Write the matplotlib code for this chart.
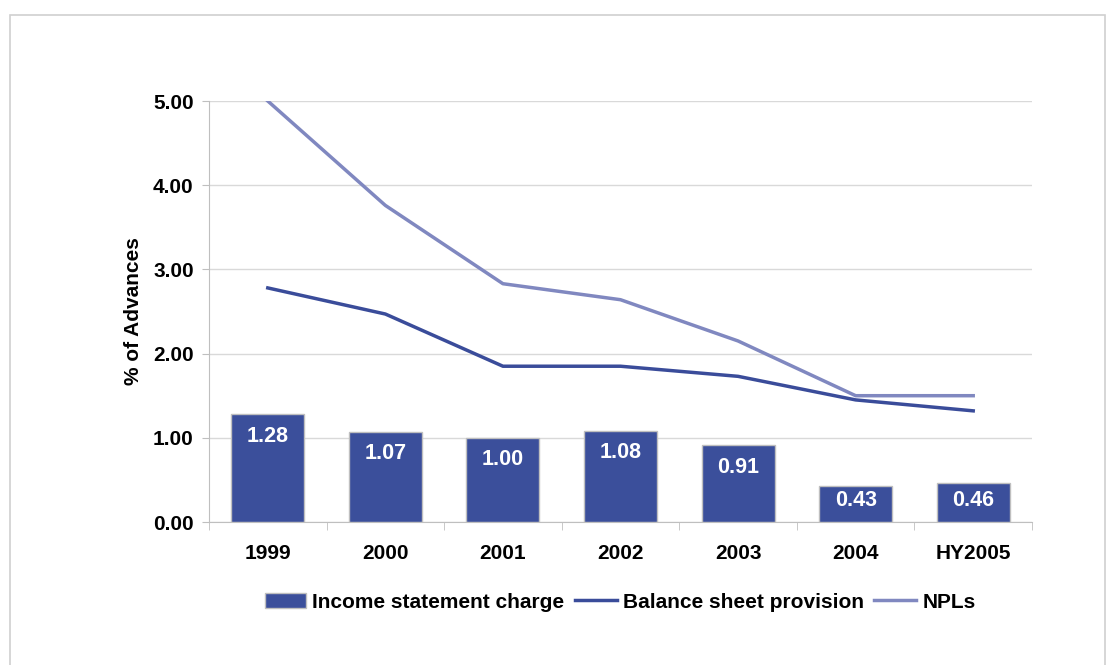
import numpy as np
import matplotlib.pyplot as plt
from matplotlib.patches import Rectangle

# chart data
years = ['1999', '2000', '2001', '2002', '2003', '2004', 'HY2005']
income_charge = [1.28, 1.07, 1.00, 1.08, 0.91, 0.43, 0.46]
balance_prov = [2.78, 2.47, 1.85, 1.85, 1.73, 1.45, 1.32]
npls = [5.00, 3.76, 2.83, 2.64, 2.15, 1.50, 1.50]
yticks = [0, 1, 2, 3, 4, 5]

bar_col = '#3B4F9B'
bal_col = '#3A4C9A'
npl_col = '#8088C0'
grid_col = '#D9D9D9'

plt.rcParams['font.family'] = ['Liberation Sans', 'DejaVu Sans']
plt.rcParams['font.weight'] = 'bold'

fig = plt.figure(figsize=(11.19, 6.65), dpi=100)
# outer frame
fig.patches.append(Rectangle((10 / 1119, -0.01), 1095 / 1119, 1 - 15 / 665 + 0.01,
                             transform=fig.transFigure, fill=False,
                             edgecolor='#D0D0D0', linewidth=1.2))

ax = fig.add_axes([209 / 1119, 1 - 522 / 665, 823 / 1119, 421 / 665])
x = np.arange(len(years))

bars = ax.bar(x, income_charge, width=0.62, color=bar_col, edgecolor='#BFBFBF',
              linewidth=1, zorder=2, label='Income statement charge')
for xi, v in zip(x, income_charge):
    # inside-end labels, kept off the axis for short bars
    ax.text(xi, max(v - 0.26, 0.25), '%.2f' % v, ha='center', va='center',
            color='white', fontsize=15.5, fontweight='bold', zorder=3)

l1, = ax.plot(x, balance_prov, color=bal_col, linewidth=2.5, zorder=4,
              label='Balance sheet provision')
l2, = ax.plot(x, npls, color=npl_col, linewidth=2.5, zorder=4, label='NPLs')

ax.set_xlim(-0.5, len(years) - 0.5)
ax.set_ylim(0, 5)
ax.set_yticks(yticks)
ax.set_yticklabels(['%.2f' % t for t in yticks], fontsize=15, fontweight='bold')
ax.set_xticks(x)
ax.set_xticklabels(years, fontsize=15, fontweight='bold')
ax.set_xticks(np.arange(-0.5, len(years)), minor=True)
ax.tick_params(axis='x', which='major', length=0, pad=16)
ax.tick_params(axis='x', which='minor', length=6, color='#BFBFBF')
ax.tick_params(axis='y', length=5, color='#BFBFBF', pad=6)

ax.grid(axis='y', color=grid_col, linewidth=1, zorder=0)
ax.set_axisbelow(True)
for s in ['top', 'right']:
    ax.spines[s].set_visible(False)
for s in ['left', 'bottom']:
    ax.spines[s].set_color('#BFBFBF')

ax.set_ylabel('% of Advances', fontsize=15, fontweight='bold', labelpad=7)

leg = fig.legend([bars, l1, l2],
                 ['Income statement charge', 'Balance sheet provision', 'NPLs'],
                 loc='center', bbox_to_anchor=(620 / 1119, 1 - 602 / 665),
                 ncol=3, frameon=False, fontsize=15, handlelength=2.0,
                 handletextpad=0.3, columnspacing=0.5)

fig.savefig('out.png', dpi=100)
